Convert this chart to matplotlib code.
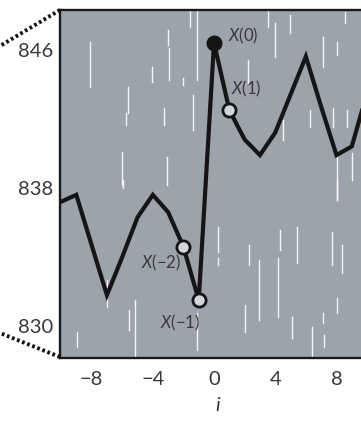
import matplotlib.pyplot as plt
from matplotlib.lines import Line2D

# series values X(i) around the event at i = 0
steps = list(range(-10, 11))
values = [837.2, 837.6, 834.7, 831.8, 834.0, 836.3, 837.6, 836.6, 834.6, 831.5,
          846.4, 842.5, 840.8, 839.9, 841.2, 843.4, 845.6, 842.7, 839.9, 840.4, 843.5]

# highlighted points and their labels
marked = [-2, -1, 0, 1]
marked_labels = ['$X$(−2)', '$X$(−1)', '$X$(0)', '$X$(1)']

xticks = [-8, -4, 0, 4, 8]
yticks = [830, 838, 846]

# white scratch texture on the panel: (i, top, bottom)
scratches = [
    (-8.10, 846.46, 843.86), (-6.01, 840.09, 838.17), (-5.62, 843.86, 842.35),
    (-5.75, 842.35, 841.65), (-4.05, 845.01, 844.14), (-3.01, 847.16, 846.29),
    (-2.94, 846.12, 844.26), (-3.27, 842.64, 841.65), (-3.07, 839.80, 838.17),
    (-2.03, 844.38, 843.97), (-1.37, 843.39, 841.36), (-1.11, 848.30, 844.26),
    (-1.57, 848.30, 847.33), (3.53, 848.30, 847.33), (3.99, 847.57, 845.59),
    (4.97, 848.03, 846.99), (7.12, 846.75, 845.01), (8.56, 848.20, 847.57),
    (2.22, 845.42, 844.09), (4.51, 841.94, 840.78), (6.27, 842.52, 841.54),
    (8.69, 842.52, 841.54), (8.04, 839.80, 837.30), (9.02, 840.03, 838.46),
    (8.04, 846.46, 845.71), (7.78, 842.64, 841.54), (0.26, 835.74, 834.29),
    (0.26, 833.94, 833.54), (2.29, 834.70, 833.54), (2.94, 833.83, 830.35),
    (2.03, 831.22, 829.65), (4.31, 835.57, 834.41), (4.18, 833.94, 830.52),
    (5.42, 835.74, 833.65), (5.10, 830.52, 829.30), (6.41, 829.94, 828.20),
    (7.12, 830.75, 830.17), (7.19, 829.48, 828.78), (7.71, 835.45, 833.54),
    (8.04, 831.62, 830.75), (8.37, 834.70, 833.07), (8.04, 838.46, 837.30),
    (-8.95, 829.65, 828.78), (-6.99, 832.67, 831.10), (-5.56, 830.93, 829.77),
    (-5.16, 831.51, 828.20), (-1.11, 830.75, 828.61), (-5.95, 838.46, 838.00),
]

plt.rcParams['font.family'] = ['Lato', 'DejaVu Sans']
plt.rcParams['mathtext.fontset'] = 'custom'
plt.rcParams['mathtext.it'] = 'Lato:italic'

fig = plt.figure(figsize=(3.61, 4.30), dpi=100)
ax = fig.add_axes([0.166, 0.167, 0.872, 0.810])
ax.set_facecolor('#9da3ab')

for x, top, bot in scratches:
    ax.plot([x, x], [bot, top], color='white', lw=1.0, alpha=0.9, zorder=1)

ax.plot(steps, values, color='#151515', lw=3.0, solid_joinstyle='miter', zorder=3)

offsets = {-2: (-2, -12, 'right'), -1: (1, -16, 'right'),
           0: (10, 5, 'left'), 1: (1, 15, 'left')}
for k, lab in zip(marked, marked_labels):
    y = values[steps.index(k)]
    face = '#151515' if k == 0 else '#d3d7db'
    ax.plot(k, y, 'o', ms=9.5, mfc=face, mec='#151515', mew=2.0, zorder=4)
    dx, dy, ha = offsets[k]
    ax.annotate(lab, (k, y), xytext=(dx, dy), textcoords='offset points',
                ha=ha, va='center', fontsize=12, color='#383838', zorder=5)

ax.set_xlim(-10.07, 10.5)
ax.set_ylim(828.15, 848.3)
ax.set_xticks(xticks)
ax.set_yticks(yticks)
ax.tick_params(length=0, labelsize=14.5, labelcolor='#383838')
ax.tick_params(axis='x', pad=9)
ax.tick_params(axis='y', pad=5)
ax.set_xlabel('i', fontsize=14.5, style='italic', color='#383838', labelpad=7)

for side in ['left', 'top', 'bottom']:
    ax.spines[side].set_linewidth(1.7)
    ax.spines[side].set_color('#1a1a1a')
ax.spines['right'].set_visible(False)

# dotted connectors running out from the panel corners
fw, fh = 361.0, 430.0
for (x0, y0), (x1, y1) in [((60, 10), (0, 46)), ((60, 357), (0, 333))]:
    fig.add_artist(Line2D([x0 / fw, x1 / fw], [1 - y0 / fh, 1 - y1 / fh],
                          color='#111111', lw=2.8, linestyle=(0, (0.7, 0.7))))

fig.savefig('out.png', dpi=100)
